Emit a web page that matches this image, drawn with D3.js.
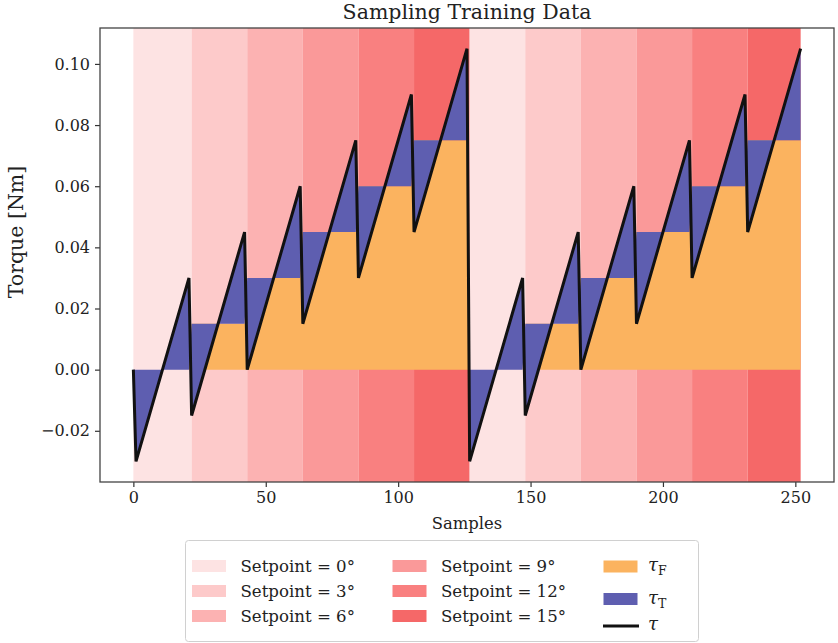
<!DOCTYPE html>
<html>
<head>
<meta charset="utf-8">
<script src="https://cdn.jsdelivr.net/npm/d3@7"></script>
<style>
  body { margin: 0; background: #fff; }
  text { font-family: "DejaVu Serif", serif; fill: #222; }
</style>
</head>
<body>
<div id="chart"></div>
<script>
// setpoint bands (sample edges) and their setpoint in degrees
var bandEdges = [0, 22, 43, 64, 85, 106, 127, 148, 169, 190, 211, 232, 252];
var bandSetpoints = [0, 3, 6, 9, 12, 15, 0, 3, 6, 9, 12, 15];

var setpoints = [0, 3, 6, 9, 12, 15];
var setpointColors = ["#fde3e3", "#fdcaca", "#fcb2b2", "#fa9999", "#f98080", "#f56868"];
// friction torque level for each setpoint
var frictionLevels = [0, 0.015, 0.03, 0.045, 0.06, 0.075];

// measured torque, breakpoints of the sawtooth
var tauSamples = [0, 1, 21, 22, 42, 43, 63, 64, 84, 85, 105, 106, 126,
                  127, 147, 148, 168, 169, 189, 190, 210, 211, 231, 232, 252];
var tauValues = [0, -0.03, 0.03, -0.015, 0.045, 0, 0.06, 0.015, 0.075, 0.03, 0.09, 0.045, 0.105,
                 -0.03, 0.03, -0.015, 0.045, 0, 0.06, 0.015, 0.075, 0.03, 0.09, 0.045, 0.105];

var xTicks = [0, 50, 100, 150, 200, 250];
var yTicks = [-0.02, 0, 0.02, 0.04, 0.06, 0.08, 0.10];

var svgWidth = 838, svgHeight = 643;
var margin = { top: 28, left: 100, right: 4, bottom: 161 };
var w = svgWidth - margin.left - margin.right;
var h = svgHeight - margin.top - margin.bottom;

var svg = d3.select("#chart").append("svg")
    .attr("width", svgWidth)
    .attr("height", svgHeight);

var chartGroup = svg.append("g")
    .attr("transform", `translate(${margin.left}, ${margin.top})`);

// matplotlib style 5% margins
var xScale = d3.scaleLinear().domain([-12.6, 264.6]).range([0, w]);
var yScale = d3.scaleLinear().domain([-0.03675, 0.11175]).range([h, 0]);

function levelAt(s) {
    for (var i = 0; i < bandSetpoints.length; i++) {
        if (s >= bandEdges[i] && (s < bandEdges[i + 1] || i == bandSetpoints.length - 1)) {
            return frictionLevels[setpoints.indexOf(bandSetpoints[i])];
        }
    }
    return 0;
}

var points = tauSamples.map(function (s, i) {
    return { s: s, tau: tauValues[i], fric: levelAt(s) };
});

// background bands
chartGroup.selectAll(".band")
    .data(bandSetpoints)
    .enter()
    .append("rect")
    .attr("x", (d, i) => xScale(bandEdges[i]))
    .attr("width", (d, i) => xScale(bandEdges[i + 1]) - xScale(bandEdges[i]))
    .attr("y", 0)
    .attr("height", h)
    .attr("fill", d => setpointColors[setpoints.indexOf(d)]);

// friction area
var fricArea = d3.area()
    .x(d => xScale(d.s))
    .y0(yScale(0))
    .y1(d => yScale(d.fric));

chartGroup.append("path")
    .datum(points)
    .attr("d", fricArea)
    .attr("fill", "#fbb35f");

// remaining torque between friction and measured torque
var tArea = d3.area()
    .x(d => xScale(d.s))
    .y0(d => yScale(d.fric))
    .y1(d => yScale(d.tau));

chartGroup.append("path")
    .datum(points)
    .attr("d", tArea)
    .attr("fill", "#5e5eb0");

var line = d3.line()
    .x(d => xScale(d.s))
    .y(d => yScale(d.tau));

chartGroup.append("path")
    .datum(points)
    .attr("d", line)
    .attr("fill", "none")
    .attr("stroke", "#111")
    .attr("stroke-width", 3)
    .attr("stroke-linejoin", "miter");

// axes
var xAxis = d3.axisBottom(xScale).tickValues(xTicks).tickSize(5).tickSizeOuter(0).tickPadding(5);
var yAxis = d3.axisLeft(yScale).tickValues(yTicks).tickSize(5).tickSizeOuter(0).tickPadding(5)
    .tickFormat(d3.format(".2f"));

var gx = chartGroup.append("g")
    .attr("transform", `translate(0, ${h})`)
    .call(xAxis);
var gy = chartGroup.append("g")
    .call(yAxis);

[gx, gy].forEach(function (g) {
    g.select(".domain").remove();
    g.selectAll(".tick line").attr("stroke", "#333").attr("stroke-width", 1.2);
    g.selectAll(".tick text")
        .attr("font-family", "DejaVu Serif")
        .attr("font-size", "16px")
        .attr("fill", "#222");
});

// spines
chartGroup.append("rect")
    .attr("width", w)
    .attr("height", h)
    .attr("fill", "none")
    .attr("stroke", "#444")
    .attr("stroke-width", 1.3);

// title and labels
svg.append("text")
    .attr("x", margin.left + w / 2)
    .attr("y", 19)
    .attr("text-anchor", "middle")
    .attr("font-size", "20.5px")
    .text("Sampling Training Data");

svg.append("text")
    .attr("x", margin.left + w / 2)
    .attr("y", 529)
    .attr("text-anchor", "middle")
    .attr("font-size", "16.4px")
    .text("Samples");

svg.append("text")
    .attr("transform", "translate(23, 232) rotate(-90)")
    .attr("text-anchor", "middle")
    .attr("font-size", "20.5px")
    .text("Torque [Nm]");

// legend
var legend = svg.append("g");
legend.append("rect")
    .attr("x", 185.5)
    .attr("y", 540.5)
    .attr("width", 513)
    .attr("height", 101)
    .attr("rx", 3)
    .attr("fill", "#fff")
    .attr("stroke", "#d0d0d0");

var rowY = [566, 591, 616];
setpoints.forEach(function (sp, i) {
    var col = Math.floor(i / 3), row = i % 3;
    var px = col == 0 ? 192 : 392.5;
    legend.append("rect")
        .attr("x", px)
        .attr("y", rowY[row] - 6)
        .attr("width", 34)
        .attr("height", 12)
        .attr("fill", setpointColors[i]);
    legend.append("text")
        .attr("x", px + 48.5)
        .attr("y", rowY[row] + 6)
        .attr("font-size", "16.6px")
        .text(`Setpoint = ${sp}°`);
});

function tauLabel(y, sub) {
    var t = legend.append("text")
        .attr("x", 648)
        .attr("y", y)
        .attr("font-size", "18px");
    t.append("tspan").attr("font-style", "italic").text("τ");
    if (sub) {
        t.append("tspan").attr("font-size", "12.5px").attr("dy", 4).text(sub);
    }
}

legend.append("rect")
    .attr("x", 603.5).attr("y", 560.5).attr("width", 34).attr("height", 12)
    .attr("fill", "#fbb35f");
tauLabel(571, "F");

legend.append("rect")
    .attr("x", 603.5).attr("y", 593).attr("width", 34).attr("height", 12)
    .attr("fill", "#5e5eb0");
tauLabel(604, "T");

legend.append("line")
    .attr("x1", 603).attr("x2", 639).attr("y1", 626).attr("y2", 626)
    .attr("stroke", "#111").attr("stroke-width", 3);
tauLabel(630, null);
</script>
</body>
</html>
